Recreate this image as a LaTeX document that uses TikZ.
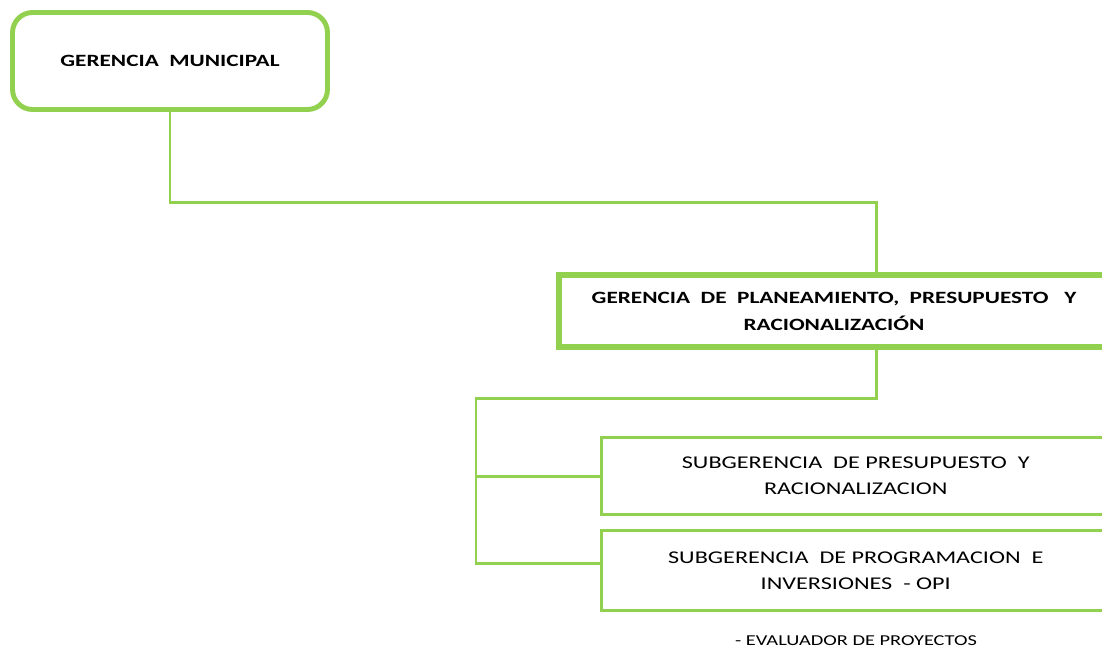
\documentclass[tikz,border=0pt]{standalone}
\usepackage{fontspec}
\setmainfont{Carlito}[FakeStretch=1.35]
\usetikzlibrary{positioning}
\definecolor{hojaverde}{HTML}{92D050}

\begin{document}
\begin{tikzpicture}[x=0.02cm, y=-0.02cm]
	\tikzstyle{jefe} = [draw=hojaverde, line width=2.8pt, rounded corners=0.4cm, minimum width=6.3cm, minimum height=1.94cm, inner sep=0pt, font=\fontsize{9.8}{12}\selectfont\bfseries]
	\tikzstyle{gerencia} = [draw=hojaverde, line width=3.4pt, minimum width=11cm, minimum height=1.44cm, inner sep=0pt, align=center, font=\fontsize{9.8}{15.3}\selectfont\bfseries]
	\tikzstyle{sub} = [draw=hojaverde, line width=1.7pt, minimum width=10.17cm, inner sep=0pt, align=center, font=\fontsize{10.2}{14.8}\selectfont]
	\tikzstyle{rama} = [draw=hojaverde, line width=1.7pt]
	\useasboundingbox (0,0) rectangle (1102,650);

	\node[jefe] (gm) at (170,61) {GERENCIA\ \ MUNICIPAL};
	\node[gerencia] (gpp) at (834,311) {GERENCIA\ \ DE\ \ PLANEAMIENTO,\ \ PRESUPUESTO\ \ \ Y\\RACIONALIZACIÓN};
	\node[sub, minimum height=1.54cm] (sg1) at (855.75,476) {SUBGERENCIA\ \ DE\ PRESUPUESTO\ \ Y\\RACIONALIZACION};
	\node[sub, minimum height=1.6cm] (sg2) at (855.75,570.5) {SUBGERENCIA\ \ DE\ PROGRAMACION\ \ E\\INVERSIONES\ \ -\ OPI};
	\node[font=\fontsize{8.6}{10}\selectfont] (eval) at (856,641) {- EVALUADOR DE PROYECTOS};

	% enlaces entre cajas
	\coordinate (j1) at (876,202);
	\coordinate (j2) at (476,398);
	\draw[rama] (gm.south) |- (j1) -- (j1 |- gpp.north);
	\draw[rama] (j1 |- gpp.south) |- (j2) |- ([yshift=0.14cm]sg2.west);
	\draw[rama] (j2 |- sg1.west) -- (sg1.west);
\end{tikzpicture}
\end{document}
